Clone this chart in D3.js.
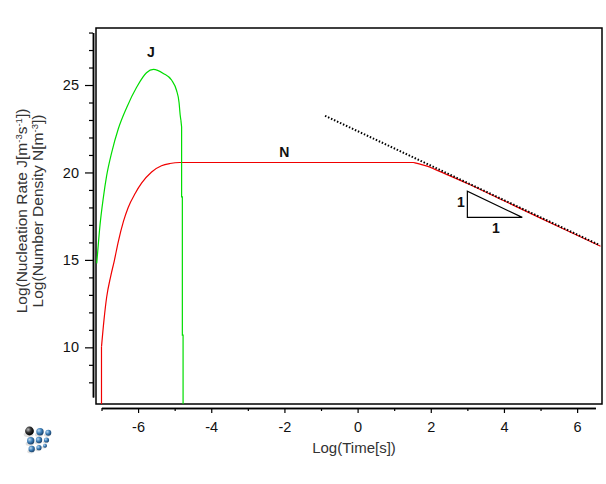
<!DOCTYPE html>
<html>
<head>
<meta charset="utf-8">
<script src="https://d3js.org/d3.v7.min.js"></script>
<style>
  body { margin: 0; background: #fff; }
  text { font-family: "Liberation Sans", Arial, sans-serif; }
</style>
</head>
<body>
<div id="chart"></div>
<script>
const width = 606;
const height = 484;

// Log(Time[s]) vs Log(J), Log(N); the smooth parts and the sharp drops are kept apart
const jRise = [
  [-7.13, 14.8], [-7.10, 15.56], [-7.04, 17.0], [-6.95, 18.55], [-6.86, 19.8],
  [-6.72, 21.15], [-6.54, 22.5], [-6.31, 23.72], [-6.04, 24.87], [-5.77, 25.7],
  [-5.58, 25.89], [-5.31, 25.66], [-5.08, 25.27], [-4.95, 24.70], [-4.88, 24.0],
  [-4.85, 23.3], [-4.83, 22.99]
];
const jDrop = [
  [-4.83, 22.99], [-4.81, 22.6], [-4.81, 18.6], [-4.79, 18.6], [-4.79, 10.7],
  [-4.77, 10.7], [-4.77, 5]
];
const nStart = [[-7.0, 5], [-7.0, 10.03]];
const nCurve = [
  [-7.0, 10.03], [-6.93, 11.6], [-6.86, 12.85], [-6.75, 14.05], [-6.65, 14.95],
  [-6.54, 16.05], [-6.40, 17.2], [-6.27, 18.0], [-6.08, 18.8], [-5.90, 19.4],
  [-5.63, 20.03], [-5.36, 20.38], [-5.13, 20.51], [-4.86, 20.57], [1.52, 20.57],
  [1.6, 20.53], [1.75, 20.45], [1.9, 20.36], [2.1, 20.19], [2.4, 19.92],
  [3.0, 19.37], [4.0, 18.38], [5.0, 17.39], [6.0, 16.41], [6.64, 15.78]
];
const slopeLine = [[-0.89, 23.24], [6.62, 15.84]];
const slopeTriangle = [[3.0, 18.93], [3.0, 17.43], [4.5, 17.43]];

const xMajorTicks = [-6, -4, -2, 0, 2, 4, 6];
const xMinorTicks = [-7, -5, -3, -1, 1, 3, 5];
const yMajorTicks = [10, 15, 20, 25];
const yMinorTicks = [8, 9, 11, 12, 13, 14, 16, 17, 18, 19, 21, 22, 23, 24, 26, 27, 28];

const frame = {left: 96, right: 602, top: 28, bottom: 404};

const x = d3.scaleLinear().domain([-7.15, 6.68]).range([frame.left, frame.right]);
const y = d3.scaleLinear().domain([6.76, 28.26]).range([frame.bottom, frame.top]);

const svg = d3.select('#chart').append('svg')
  .attr('width', width)
  .attr('height', height);

svg.append('defs').append('clipPath')
  .attr('id', 'plot-clip')
  .append('rect')
  .attr('x', frame.left)
  .attr('y', frame.top)
  .attr('width', frame.right - frame.left)
  .attr('height', frame.bottom - frame.top);

// frame
svg.append('rect')
  .attr('x', frame.left)
  .attr('y', frame.top)
  .attr('width', frame.right - frame.left)
  .attr('height', frame.bottom - frame.top)
  .attr('fill', 'none')
  .attr('stroke', '#000')
  .attr('stroke-width', 1.5);

// axes sit slightly outside the frame
const xAxisScale = d3.scaleLinear().domain([-7, 6.5]).range([x(-7), x(6.5)]);
const yAxisScale = d3.scaleLinear().domain([7.16, 28]).range([y(7.16), y(28)]);

const xAxisG = svg.append('g').attr('transform', 'translate(0,408)');
xAxisG.append('g')
  .call(d3.axisBottom(xAxisScale).tickValues(xMinorTicks).tickSize(3).tickSizeOuter(0).tickFormat(''));
xAxisG.append('g')
  .call(d3.axisBottom(xAxisScale).tickValues(xMajorTicks).tickSize(5).tickSizeOuter(0).tickPadding(9)
    .tickFormat(d3.format('d')));

const yAxisG = svg.append('g').attr('transform', 'translate(93,0)');
yAxisG.append('g')
  .call(d3.axisLeft(yAxisScale).tickValues(yMinorTicks).tickSize(4).tickSizeOuter(0).tickFormat(''));
yAxisG.append('g')
  .call(d3.axisLeft(yAxisScale).tickValues(yMajorTicks).tickSize(8).tickSizeOuter(0).tickPadding(6)
    .tickFormat(d3.format('d')));

svg.selectAll('.domain').attr('stroke', '#000').attr('stroke-width', 1.5);
svg.selectAll('.tick line').attr('stroke', '#000').attr('stroke-width', 1.2);
svg.selectAll('.tick text')
  .attr('fill', '#111')
  .style('font-size', '14.5px')
  .style('font-family', '"Liberation Sans", Arial, sans-serif')
  .text(function() { return this.textContent.replace('−', '-'); });

// axis titles
svg.append('text')
  .attr('x', 354)
  .attr('y', 453)
  .attr('text-anchor', 'middle')
  .attr('fill', '#333')
  .style('font-size', '15px')
  .text('Log(Time[s])');

const yTitle = svg.append('text')
  .attr('transform', 'translate(27,211) rotate(-90)')
  .attr('text-anchor', 'middle')
  .attr('fill', '#333')
  .style('font-size', '15.5px');

const line1 = yTitle.append('tspan').attr('x', 0).attr('dy', 0);
line1.append('tspan').text('Log(Nucleation Rate J[m');
line1.append('tspan').attr('dy', -5).style('font-size', '9.5px').text('-3');
line1.append('tspan').attr('dy', 5).text('s');
line1.append('tspan').attr('dy', -5).style('font-size', '9.5px').text('-1');
line1.append('tspan').attr('dy', 5).text('])');

const line2 = yTitle.append('tspan').attr('x', 0).attr('dy', 16);
line2.append('tspan').text('Log(Number Density N[m');
line2.append('tspan').attr('dy', -5).style('font-size', '9.5px').text('-3');
line2.append('tspan').attr('dy', 5).text('])');

// curves
const plot = svg.append('g').attr('clip-path', 'url(#plot-clip)');
const straight = d3.line().x(d => x(d[0])).y(d => y(d[1]));
const smooth = d3.line().x(d => x(d[0])).y(d => y(d[1])).curve(d3.curveMonotoneX);

function drawPath(data, gen, color, width, dash) {
  plot.append('path')
    .datum(data)
    .attr('d', gen)
    .attr('fill', 'none')
    .attr('stroke', color)
    .attr('stroke-width', width)
    .attr('stroke-dasharray', dash || null);
}

drawPath(nStart, straight, '#f00000', 1.2);
drawPath(nCurve, smooth, '#f00000', 1.2);
drawPath(slopeLine, straight, '#000', 2, '1.5,1.8');
drawPath(jRise, smooth, '#00dd00', 1.2);
drawPath(jDrop, straight, '#00dd00', 1.2);

plot.append('path')
  .datum(slopeTriangle)
  .attr('d', d => straight(d) + 'Z')
  .attr('fill', 'none')
  .attr('stroke', '#000')
  .attr('stroke-width', 1.2);

// labels
const labels = [
  {text: 'J', x: -5.65, y: 26.6},
  {text: 'N', x: -2.0, y: 20.9},
  {text: '1', x: 2.82, y: 18.0},
  {text: '1', x: 3.78, y: 16.55}
];
svg.selectAll('.lbl')
  .data(labels)
  .join('text')
  .attr('class', 'lbl')
  .attr('x', d => x(d.x))
  .attr('y', d => y(d.y))
  .attr('text-anchor', 'middle')
  .attr('font-weight', 'bold')
  .attr('fill', '#111')
  .style('font-size', '14px')
  .text(d => d.text);

// little sphere logo in the corner
const defs = svg.select('defs');
const blue = defs.append('radialGradient').attr('id', 'ball-blue').attr('cx', '35%').attr('cy', '35%').attr('r', '65%');
blue.append('stop').attr('offset', '0%').attr('stop-color', '#bcd8f0');
blue.append('stop').attr('offset', '55%').attr('stop-color', '#3d7fb8');
blue.append('stop').attr('offset', '100%').attr('stop-color', '#1d4670');
const dark = defs.append('radialGradient').attr('id', 'ball-dark').attr('cx', '35%').attr('cy', '35%').attr('r', '65%');
dark.append('stop').attr('offset', '0%').attr('stop-color', '#bbb');
dark.append('stop').attr('offset', '50%').attr('stop-color', '#333');
dark.append('stop').attr('offset', '100%').attr('stop-color', '#000');

const balls = [
  {cx: 29.5, cy: 431, r: 4.4, fill: 'url(#ball-dark)'},
  {cx: 40, cy: 431.7, r: 3.7, fill: 'url(#ball-blue)'},
  {cx: 48.3, cy: 432.7, r: 3, fill: 'url(#ball-blue)'},
  {cx: 30.7, cy: 440.7, r: 3.7, fill: 'url(#ball-blue)'},
  {cx: 39, cy: 440, r: 3.2, fill: 'url(#ball-blue)'},
  {cx: 46.5, cy: 440, r: 2.6, fill: 'url(#ball-blue)'},
  {cx: 31.7, cy: 449, r: 3.2, fill: 'url(#ball-blue)'},
  {cx: 39, cy: 447.7, r: 2.6, fill: 'url(#ball-blue)'},
  {cx: 45, cy: 445.7, r: 2, fill: 'url(#ball-blue)'}
];
const logo = svg.append('g');
logo.selectAll('ellipse')
  .data(balls)
  .join('ellipse')
  .attr('cx', d => d.cx - 1)
  .attr('cy', d => d.cy + d.r * 0.8)
  .attr('rx', d => d.r * 1.1)
  .attr('ry', d => d.r * 0.6)
  .attr('fill', '#000')
  .attr('opacity', 0.12);
logo.selectAll('circle')
  .data(balls)
  .join('circle')
  .attr('cx', d => d.cx)
  .attr('cy', d => d.cy)
  .attr('r', d => d.r)
  .attr('fill', d => d.fill);
</script>
</body>
</html>
